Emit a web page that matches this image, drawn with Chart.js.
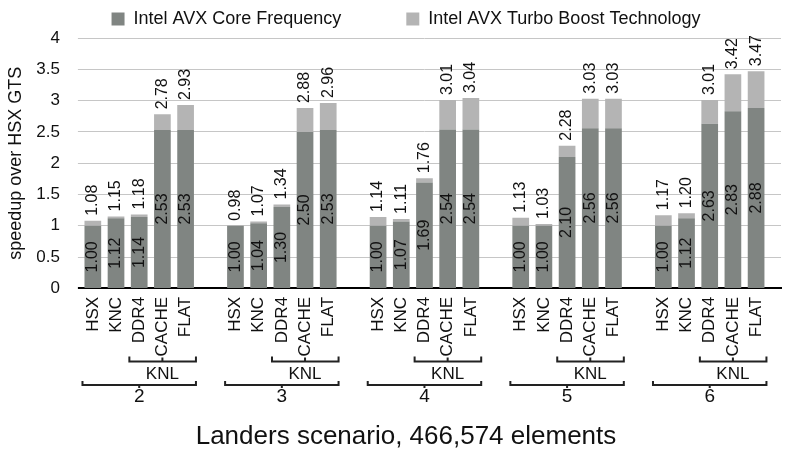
<!DOCTYPE html>
<html>
<head>
<meta charset="utf-8">
<script src="https://cdn.jsdelivr.net/npm/chart.js@4.4.1/dist/chart.umd.min.js"></script>
<style>
  html, body { margin: 0; padding: 0; background: #fff; overflow: hidden; }
  #wrap { width: 799px; height: 451px; overflow: hidden; }
</style>
</head>
<body>
<div id="wrap"><canvas id="myChart" width="812" height="451"></canvas></div>
<script>
// element counts on the x axis (groups) and machines in each group
const groups = ["2", "3", "4", "5", "6"];
const machines = ["HSX", "KNC", "DDR4", "CACHE", "FLAT"];
const knlMachines = ["DDR4", "CACHE", "FLAT"];

// speedup with core frequency (dark) and with turbo boost (total height)
const hsxCore = [1.00, 1.00, 1.00, 1.00, 1.00];
const hsxTurbo = [1.08, 0.98, 1.14, 1.13, 1.17];
const kncCore = [1.12, 1.04, 1.07, 1.00, 1.12];
const kncTurbo = [1.15, 1.07, 1.11, 1.03, 1.20];
const ddr4Core = [1.14, 1.30, 1.69, 2.10, 2.63];
const ddr4Turbo = [1.18, 1.34, 1.76, 2.28, 3.01];
const cacheCore = [2.53, 2.50, 2.54, 2.56, 2.83];
const cacheTurbo = [2.78, 2.88, 3.01, 3.03, 3.42];
const flatCore = [2.53, 2.53, 2.54, 2.56, 2.88];
const flatTurbo = [2.93, 2.96, 3.04, 3.03, 3.47];

const coreValues = [hsxCore, kncCore, ddr4Core, cacheCore, flatCore];
const turboValues = [hsxTurbo, kncTurbo, ddr4Turbo, cacheTurbo, flatTurbo];

const FONT = '"Liberation Sans", Arial, Helvetica, sans-serif';
const darkGray = "#808582";
const lightGray = "#b4b4b4";

Chart.defaults.font.family = FONT;
Chart.defaults.color = "#111";

function drawRotated(ctx, text, x, y, align) {
  ctx.save();
  ctx.translate(x, y);
  ctx.rotate(-Math.PI / 2);
  ctx.textAlign = align;
  ctx.fillText(text, 0, 0);
  ctx.restore();
}

function bracket(ctx, x1, x2, y, endUp, midX, midDy) {
  ctx.beginPath();
  ctx.moveTo(x1, y - endUp);
  ctx.lineTo(x1, y);
  ctx.lineTo(x2, y);
  ctx.lineTo(x2, y - endUp);
  ctx.moveTo(midX, y);
  ctx.lineTo(midX, y + midDy);
  ctx.stroke();
}

// value labels on the bars
const barLabels = {
  id: "barLabels",
  afterDatasetsDraw(chart) {
    const ctx = chart.ctx;
    ctx.save();
    ctx.fillStyle = "#111";
    ctx.font = "16px " + FONT;
    ctx.textBaseline = "middle";
    machines.forEach((m, i) => {
      const coreBars = chart.getDatasetMeta(2 * i).data;
      const turboBars = chart.getDatasetMeta(2 * i + 1).data;
      coreBars.forEach((bar, j) => {
        const top = Math.min(bar.y, turboBars[j].y);
        drawRotated(ctx, coreValues[i][j].toFixed(2), bar.x, (bar.y + bar.base) / 2, "center");
        drawRotated(ctx, turboValues[i][j].toFixed(2), bar.x, top - 5, "left");
      });
    });
    ctx.restore();
  },
};

// machine names, KNL brackets and group brackets under the axis
const axisDecor = {
  id: "axisDecor",
  afterDraw(chart) {
    const { ctx, chartArea } = chart;
    const bottom = chartArea.bottom;
    ctx.save();
    // gridlines start a bit right of the plot edge
    ctx.fillStyle = "#fff";
    ctx.fillRect(chartArea.left - 2, chartArea.top - 2, 12, chartArea.bottom - chartArea.top + 4);

    ctx.fillStyle = "#111";
    ctx.textBaseline = "middle";
    ctx.font = "17px " + FONT;
    machines.forEach((m, i) => {
      chart.getDatasetMeta(2 * i).data.forEach((bar) => {
        drawRotated(ctx, m, bar.x, bottom + 8.5, "right");
      });
    });

    ctx.strokeStyle = "#222";
    ctx.lineWidth = 2;
    const first = chart.getDatasetMeta(0).data;
    const knlFirst = chart.getDatasetMeta(2 * machines.indexOf(knlMachines[0])).data;
    const knlMid = chart.getDatasetMeta(2 * machines.indexOf(knlMachines[1])).data;
    const last = chart.getDatasetMeta(2 * (machines.length - 1)).data;
    const xScale = chart.scales.x;
    groups.forEach((g, j) => {
      const half = first[j].width / 2;
      const x1 = first[j].x - half - 2;
      const k1 = knlFirst[j].x - half - 1.5;
      const x2 = last[j].x + half + 2;
      bracket(ctx, k1, x2, bottom + 73, 5, knlMid[j].x, -4);
      ctx.textAlign = "center";
      ctx.fillText("KNL", knlMid[j].x, bottom + 85.5);
      bracket(ctx, x1, x2, bottom + 96.5, 4, xScale.getPixelForValue(j), 3);
    });
    ctx.restore();
  },
};

const datasets = [];
machines.forEach((m, i) => {
  datasets.push({
    label: "Intel AVX Core Frequency",
    data: coreValues[i],
    stack: m,
    backgroundColor: darkGray,
  });
  datasets.push({
    label: "Intel AVX Turbo Boost Technology",
    data: turboValues[i].map((t, j) => Math.max(0, t - coreValues[i][j])),
    stack: m,
    backgroundColor: lightGray,
  });
});

const ctx = document.getElementById("myChart").getContext("2d");
const myChart = new Chart(ctx, {
  type: "bar",
  data: { labels: groups, datasets: datasets },
  plugins: [barLabels, axisDecor],
  options: {
    responsive: false,
    animation: false,
    events: [],
    layout: { padding: { top: -55, left: 0, right: 0, bottom: 0 } },
    datasets: { bar: { categoryPercentage: 0.813, barPercentage: 0.72 } },
    plugins: {
      legend: {
        position: "top",
        labels: {
          boxWidth: 13,
          boxHeight: 13,
          padding: 65,
          color: "#111",
          font: { size: 18 },
          filter: (item) => item.datasetIndex < 2,
        },
      },
      title: {
        display: true,
        position: "bottom",
        text: "Landers scenario, 466,574 elements",
        color: "#111",
        font: { size: 26, weight: "normal", lineHeight: 1.1 },
        padding: 0,
      },
      tooltip: { enabled: false },
    },
    scales: {
      x: {
        stacked: true,
        z: 1,
        grid: { display: false, drawTicks: false },
        border: { color: "#000", width: 2 },
        ticks: { padding: 97, font: { size: 19 }, color: "#111" },
        afterFit: (scale) => { scale.height = 134; },
      },
      y: {
        stacked: true,
        min: 0,
        max: 4,
        ticks: {
          stepSize: 0.5,
          padding: 8,
          font: { size: 17 },
          color: "#111",
          callback: (value) => String(value),
        },
        grid: { color: "#c6c6c6", drawTicks: false },
        border: { display: false },
        title: {
          display: true,
          text: "speedup over HSX GTS",
          color: "#111",
          font: { size: 18 },
          padding: { top: 5, bottom: 0 },
        },
        afterFit: (scale) => { scale.width = 67.9; },
      },
    },
  },
});
</script>
</body>
</html>
